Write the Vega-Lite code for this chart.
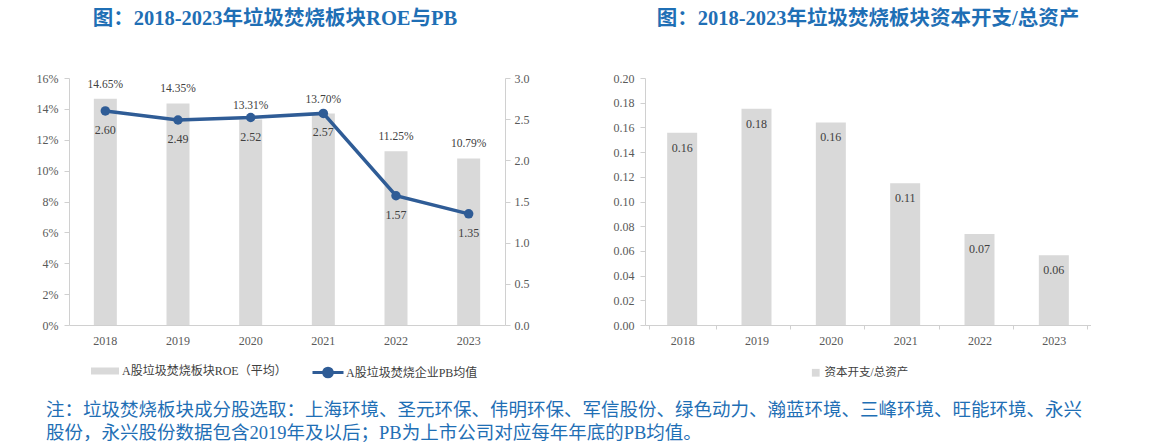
{
  "$schema": "https://vega.github.io/schema/vega-lite/v6.json",
  "padding": {"left": 36, "top": 8, "right": 0, "bottom": 0},
  "background": "white",
  "config": {
    "view": {"stroke": null},
    "font": "Liberation Serif, Noto Sans CJK SC",
    "axis": {"labelFont": "Liberation Serif, Noto Sans CJK SC", "labelColor": "#595959", "labelFontSize": 12, "domainColor": "#D0D0D0", "tickColor": "#D0D0D0", "grid": false, "title": null, "labelOverlap": false},
    "legend": {"labelFont": "Liberation Serif, Noto Sans CJK SC", "labelColor": "#404040", "labelFontSize": 12, "title": null, "labelLimit": 400},
    "title": {"font": "Liberation Serif, Noto Sans CJK SC", "color": "#1F6FB5", "fontSize": 20.5, "fontWeight": "bold"}
  },
  "datasets": {
    "left": [
      {"year": "2018", "roe": 0.1465, "pb": 2.60},
      {"year": "2019", "roe": 0.1435, "pb": 2.49},
      {"year": "2020", "roe": 0.1331, "pb": 2.52},
      {"year": "2021", "roe": 0.1370, "pb": 2.57},
      {"year": "2022", "roe": 0.1125, "pb": 1.57},
      {"year": "2023", "roe": 0.1079, "pb": 1.35}
    ],
    "right": [
      {"year": "2018", "capex": 0.1556},
      {"year": "2019", "capex": 0.1752},
      {"year": "2020", "capex": 0.1640},
      {"year": "2021", "capex": 0.1148},
      {"year": "2022", "capex": 0.0736},
      {"year": "2023", "capex": 0.0565}
    ]
  },
  "title": {
    "text": ["注：垃圾焚烧板块成分股选取：上海环境、圣元环保、伟明环保、军信股份、绿色动力、瀚蓝环境、三峰环境、旺能环境、永兴", "股份，永兴股份数据包含2019年及以后；PB为上市公司对应每年年底的PB均值。"],
    "orient": "bottom",
    "anchor": "start",
    "fontSize": 18.5,
    "fontWeight": "normal",
    "color": "#1F6FB5",
    "lineHeight": 23,
    "offset": 17,
    "dx": 10
  },
  "resolve": {"scale": {"fill": "independent"}, "legend": {"fill": "independent"}},
  "hconcat": [
    {
      "width": 436,
      "height": 247,
      "data": {"name": "left"},
      "title": {"text": "图：2018-2023年垃圾焚烧板块ROE与PB", "offset": 43, "dx": -12},
      "layer": [
        {
          "layer": [
            {
              "mark": {"type": "bar", "width": 23},
              "encoding": {
                "x": {"field": "year", "type": "nominal", "axis": {"labelAngle": 0, "ticks": false, "labelPadding": 10, "domainColor": "#D0D0D0"}},
                "y": {"field": "roe", "type": "quantitative", "scale": {"domain": [0, 0.16]}, "axis": {"format": ".0%", "values": [0, 0.02, 0.04, 0.06, 0.08, 0.1, 0.12, 0.14, 0.16], "tickCount": 20, "labelPadding": 6, "labelOverlap": false}},
                "fill": {"datum": "A股垃圾焚烧板块ROE（平均）", "type": "nominal", "scale": {"range": ["#D9D9D9"]},
                  "legend": {"orient": "none", "legendX": 22, "legendY": 279, "symbolType": "M-1,-0.25H1V0.25H-1Z", "symbolSize": 784, "symbolStrokeWidth": 0, "labelOffset": 3}}
              }
            },
            {
              "mark": {"type": "text", "dy": -14, "fontSize": 11.5, "color": "#404040"},
              "encoding": {
                "x": {"field": "year", "type": "nominal"},
                "y": {"field": "roe", "type": "quantitative"},
                "text": {"field": "roe", "type": "quantitative", "format": ".2%"}
              }
            }
          ]
        },
        {
          "layer": [
            {
              "mark": {"type": "line", "strokeWidth": 3.5},
              "encoding": {
                "x": {"field": "year", "type": "nominal"},
                "y": {"field": "pb", "type": "quantitative", "scale": {"domain": [0, 3]}, "axis": {"orient": "right", "format": ".1f", "values": [0, 0.5, 1, 1.5, 2, 2.5, 3], "tickCount": 20, "labelPadding": 4, "labelOverlap": false}},
                "stroke": {"datum": "A股垃圾焚烧企业PB均值", "type": "nominal", "scale": {"range": ["#2F5C96"]},
                  "legend": {"orient": "none", "legendX": 242, "legendY": 277.5, "symbolType": "M-1,0H1M0.28,0A0.28,0.28 0 1,1 -0.28,0A0.28,0.28 0 1,1 0.28,0Z", "symbolSize": 961, "symbolStrokeWidth": 3, "symbolFillColor": "#2F5C96", "labelOffset": 1}}
              }
            },
            {
              "mark": {"type": "point", "filled": true, "size": 90, "opacity": 1, "color": "#2F5C96"},
              "encoding": {
                "x": {"field": "year", "type": "nominal"},
                "y": {"field": "pb", "type": "quantitative"}
              }
            },
            {
              "mark": {"type": "text", "dy": 19, "fontSize": 12, "color": "#404040"},
              "encoding": {
                "x": {"field": "year", "type": "nominal"},
                "y": {"field": "pb", "type": "quantitative"},
                "text": {"field": "pb", "type": "quantitative", "format": ".2f"}
              }
            }
          ]
        }
      ],
      "resolve": {"scale": {"y": "independent"}}
    },
    {
      "width": 446,
      "height": 247,
      "data": {"name": "right"},
      "title": {"text": "图：2018-2023年垃圾焚烧板块资本开支/总资产", "offset": 43},
      "layer": [
        {
          "mark": {"type": "bar", "width": 30},
          "encoding": {
            "x": {"field": "year", "type": "nominal", "axis": {"labelAngle": 0, "tickBand": "extent", "tickSize": 4, "labelPadding": 6}},
            "y": {"field": "capex", "type": "quantitative", "scale": {"domain": [0, 0.2]}, "axis": {"format": ".2f", "values": [0, 0.02, 0.04, 0.06, 0.08, 0.1, 0.12, 0.14, 0.16, 0.18, 0.2], "tickCount": 20, "labelPadding": 6, "labelOverlap": false}},
            "fill": {"datum": "资本开支/总资产", "type": "nominal", "scale": {"range": ["#D9D9D9"]},
              "legend": {"orient": "none", "legendX": 165, "legendY": 289, "symbolType": "square", "symbolSize": 60, "symbolStrokeWidth": 0, "labelOffset": 3, "labelFontSize": 11.5}}
          }
        },
        {
          "mark": {"type": "text", "dy": 15, "fontSize": 12, "color": "#404040"},
          "encoding": {
            "x": {"field": "year", "type": "nominal"},
            "y": {"field": "capex", "type": "quantitative"},
            "text": {"field": "capex", "type": "quantitative", "format": ".2f"}
          }
        }
      ]
    }
  ],
  "spacing": 84
}
